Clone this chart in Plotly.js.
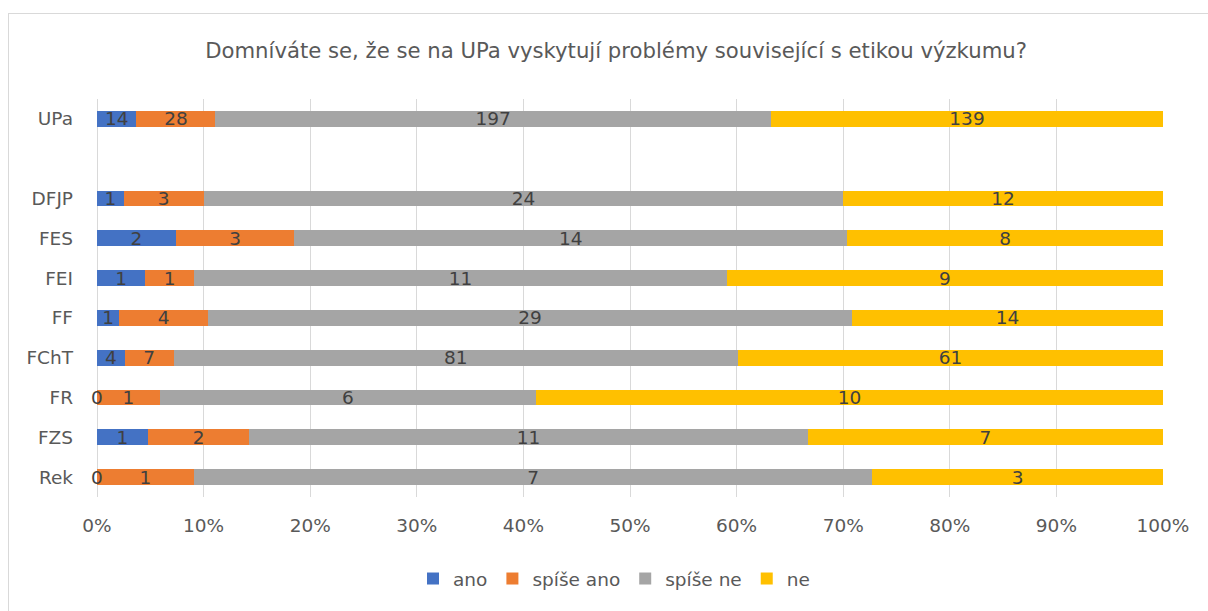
<!DOCTYPE html>
<html>
<head>
<meta charset="utf-8">
<script src="https://cdn.plot.ly/plotly-3.0.1.min.js"></script>
<style>
  html, body { margin: 0; padding: 0; background: #fff; }
  #wrap { position: relative; width: 1208px; height: 611px; overflow: hidden; }
  #chart { width: 1208px; height: 611px; }
  #frame { position: absolute; left: 8px; top: 13px; width: 1220px; height: 620px; border: 1px solid #d9d9d9; pointer-events: none; }
</style>
</head>
<body>
<div id="wrap"><div id="chart"></div><div id="frame"></div></div>
<script>
const categories = ["UPa", " ", "DFJP", "FES", "FEI", "FF", "FChT", "FR", "FZS", "Rek"];
const seriesNames = ["ano", "spíše ano", "spíše ne", "ne"];
const ano      = [14, null, 1, 2, 1, 1, 4, 0, 1, 0];
const spiseAno = [28, null, 3, 3, 1, 4, 7, 1, 2, 1];
const spiseNe  = [197, null, 24, 14, 11, 29, 81, 6, 11, 7];
const ne       = [139, null, 12, 8, 9, 14, 61, 10, 7, 3];
const colors = ["#4472C4", "#ED7D31", "#A5A5A5", "#FFC000"];
const xTickVals = [0,10,20,30,40,50,60,70,80,90,100];

const series = [ano, spiseAno, spiseNe, ne];
const FONT = "DejaVu Sans, sans-serif";
const labelFont = {family: FONT, size: 18.5, color: "#404040"};

const traces = series.map((vals, i) => ({
  type: "bar",
  orientation: "h",
  name: seriesNames[i],
  y: categories,
  x: vals,
  text: vals.map(v => (v === null || v === 0) ? "" : String(v)),
  texttemplate: "%{text}",
  textposition: "inside",
  insidetextanchor: "middle",
  textangle: 0,
  constraintext: "none",
  textfont: labelFont,
  marker: {color: colors[i], line: {width: 0}},
  hoverinfo: "skip"
}));

// labels for zero-value segments (drawn at their stacked position)
const annotations = [];
categories.forEach((c, ci) => {
  const vals = series.map(s => s[ci]);
  if (vals.some(v => v === null)) return;
  const total = vals.reduce((a, b) => a + b, 0);
  let cum = 0;
  vals.forEach((v, si) => {
    if (v === 0) {
      annotations.push({x: cum / total * 100, y: c, xref: "x", yref: "y", text: "0", showarrow: false, font: labelFont});
    }
    cum += v;
  });
});

const layout = {
  width: 1208, height: 611,
  margin: {l: 97, r: 45, t: 99, b: 114},
  paper_bgcolor: "#fff", plot_bgcolor: "#fff",
  font: {family: FONT, color: "#595959"},
  title: {text: "Domníváte se, že se na UPa vyskytují problémy související s etikou výzkumu?",
          font: {size: 21.2, color: "#595959", family: FONT},
          x: 0.51, xanchor: "center", y: 0.918, yanchor: "middle", xref: "container", yref: "container"},
  barmode: "stack",
  barnorm: "percent",
  bargap: 0.6,
  xaxis: {range: [0, 100], tickvals: xTickVals, ticktext: xTickVals.map(v => v + "%"),
          showgrid: true, gridcolor: "#d9d9d9", gridwidth: 1,
          zeroline: true, zerolinecolor: "#d9d9d9", zerolinewidth: 1,
          showline: false, ticks: "", ticklabelstandoff: 15,
          tickfont: {size: 18.5, color: "#595959"}, fixedrange: true},
  yaxis: {autorange: "reversed", type: "category", showgrid: false, zeroline: false, showline: false,
          ticks: "", ticklabelstandoff: 23, tickfont: {size: 18.5, color: "#595959"}, fixedrange: true},
  legend: {orientation: "h", x: 0.485, xanchor: "center", y: -0.206, yanchor: "middle",
           font: {size: 18.5, color: "#595959"}, traceorder: "normal", itemclick: false},
  annotations: annotations,
  showlegend: true
};

Plotly.newPlot("chart", traces, layout, {displayModeBar: false, staticPlot: true});
</script>
</body>
</html>
